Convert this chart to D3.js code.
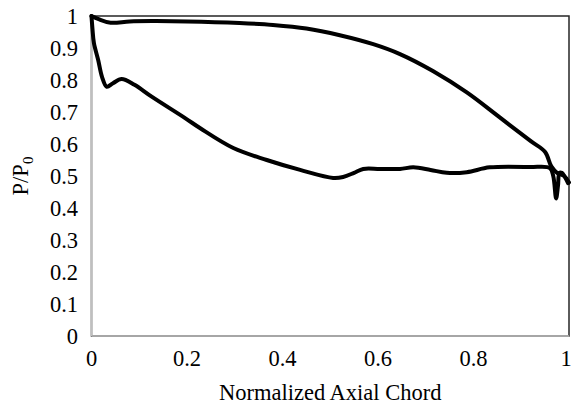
<!DOCTYPE HTML>
<html>
<head>
<meta charset="utf-8">
<title>P/P0 vs normalized axial chord</title>
<style>
	body { margin: 0; background: #fff; }
	text { font-family: "Liberation Serif", "Times New Roman", serif; fill: #000; }
</style>
</head>

<body>
<div id="chart"></div>

	<script src="https://cdnjs.cloudflare.com/ajax/libs/d3/7.8.5/d3.min.js" charset="utf-8"></script>
	<script>
	// pressure side (upper curve)
	var pressureX = [0, 0.015, 0.04, 0.08, 0.13, 0.2, 0.31, 0.38, 0.45, 0.52, 0.59, 0.646, 0.715, 0.786, 0.855, 0.92, 0.95, 0.963, 0.975, 0.99, 1.0];
	var pressureY = [1, 0.99, 0.979, 0.983, 0.984, 0.983, 0.978, 0.972, 0.961, 0.94, 0.912, 0.881, 0.828, 0.761, 0.683, 0.609, 0.575, 0.53, 0.51, 0.5, 0.48];

	// suction side (lower curve)
	var suctionX = [0, 0.002, 0.005, 0.014, 0.022, 0.032, 0.045, 0.063, 0.09, 0.126, 0.196, 0.227, 0.297, 0.367, 0.437, 0.506, 0.527, 0.55, 0.569, 0.604, 0.646, 0.674, 0.71, 0.744, 0.786, 0.834, 0.918, 0.96, 0.967, 0.973, 0.977, 0.98, 0.985, 0.99, 0.998];
	var suctionY = [1, 0.96, 0.916, 0.8625, 0.81, 0.779, 0.79, 0.803, 0.785, 0.748, 0.681, 0.65, 0.5875, 0.55, 0.519, 0.494, 0.497, 0.51, 0.522, 0.522, 0.522, 0.527, 0.519, 0.51, 0.512, 0.527, 0.528, 0.525, 0.5, 0.43, 0.47, 0.51, 0.51, 0.5, 0.478];

	var xTicks = [0, 0.2, 0.4, 0.6, 0.8, 1];
	var yTicks = [0, 0.1, 0.2, 0.3, 0.4, 0.5, 0.6, 0.7, 0.8, 0.9, 1];

	var width = 573, height = 405;
	var plotL = 91.5, plotR = 569, plotT = 16, plotB = 336;

	var svg = d3.select("#chart")
				.append("svg")
				.attr("width", width)
				.attr("height", height);

	var x = d3.scaleLinear().domain([0, 1]).range([plotL, plotR]);
	var y = d3.scaleLinear().domain([0, 1]).range([plotB, plotT]);

	// plot area border
	svg.append("rect")
		.attr("x", plotL)
		.attr("y", plotT)
		.attr("width", plotR - plotL)
		.attr("height", plotB - plotT)
		.attr("fill", "none")
		.attr("stroke", "#262626")
		.attr("stroke-width", 1.5);

	// axis lines (light grey, drawn over the border)
	svg.append("line")
		.attr("x1", plotL).attr("x2", plotL)
		.attr("y1", plotT).attr("y2", plotB)
		.attr("stroke", "#bfbfbf").attr("stroke-width", 1.5);
	svg.append("line")
		.attr("x1", plotL).attr("x2", plotR)
		.attr("y1", plotB).attr("y2", plotB)
		.attr("stroke", "#bfbfbf").attr("stroke-width", 1.5);

	// tick labels
	svg.selectAll(".ytick")
		.data(yTicks)
		.enter()
		.append("text")
		.attr("class", "ytick")
		.attr("x", 78)
		.attr("y", function(d){ return y(d); })
		.attr("dy", "0.35em")
		.attr("text-anchor", "end")
		.style("font-size", "22.5px")
		.text(function(d){ return d3.format("")(d); });

	svg.selectAll(".xtick")
		.data(xTicks)
		.enter()
		.append("text")
		.attr("class", "xtick")
		.attr("x", function(d){ return Math.min(x(d), 566); })
		.attr("y", 366)
		.attr("text-anchor", "middle")
		.style("font-size", "22.5px")
		.text(function(d){ return d3.format("")(d); });

	// axis titles
	svg.append("text")
		.attr("x", (plotL + plotR) / 2)
		.attr("y", 400)
		.attr("text-anchor", "middle")
		.style("font-size", "22.5px")
		.text("Normalized Axial Chord");

	var yt = svg.append("text")
		.attr("transform", "translate(28," + ((plotT + plotB) / 2) + ") rotate(-90)")
		.attr("text-anchor", "middle")
		.style("font-size", "22.5px");
	yt.append("tspan").text("P/P");
	yt.append("tspan").attr("dy", 5).style("font-size", "15px").text("0");

	// curves
	var line = d3.line()
		.x(function(d){ return x(d[0]); })
		.y(function(d){ return y(d[1]); })
		.curve(d3.curveCatmullRom.alpha(0.5));

	var series = [d3.zip(pressureX, pressureY), d3.zip(suctionX, suctionY)];

	svg.selectAll(".curve")
		.data(series)
		.enter()
		.append("path")
		.attr("class", "curve")
		.attr("d", line)
		.attr("fill", "none")
		.attr("stroke", "#000")
		.attr("stroke-width", 4)
		.attr("stroke-linejoin", "round")
		.attr("stroke-linecap", "round");
	</script>
</body>
</html>
